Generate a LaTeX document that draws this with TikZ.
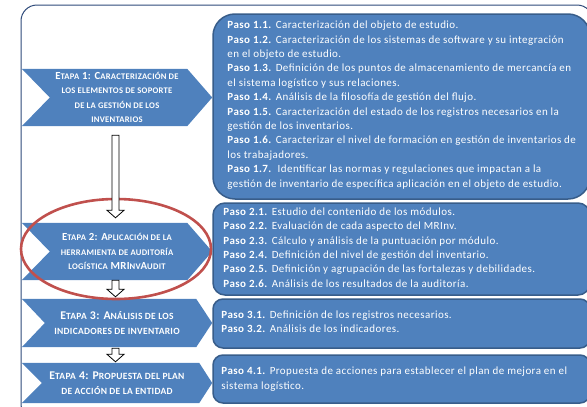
\documentclass[tikz,border=0pt]{standalone}
\usepackage{fontspec}
\setmainfont{Carlito}
\usetikzlibrary{calc,backgrounds,shapes.geometric}
\definecolor{mblue}{HTML}{4F81BD}
\definecolor{mborder}{HTML}{385D8A}
\definecolor{mframe}{HTML}{2E4A7A}
\definecolor{mred}{HTML}{C0504D}
\def\smsize{8.6}
\newcommand\smc[1]{{\fontsize{\smsize}{14.3}\selectfont\MakeUppercase{#1}}}
\begin{document}
\begin{tikzpicture}[x=1pt,y=-1pt,
  etapa/.style={minimum width=190pt,inner sep=0pt,align=center,text=white,
     font=\fontsize{10.8}{14.3}\selectfont\bfseries\addfontfeatures{LetterSpace=3}},
  etapabig/.style={etapa,
     font=\fontsize{11.8}{14.8}\selectfont\bfseries\addfontfeatures{LetterSpace=3}\def\smsize{9.5}},
  stepbox/.style={draw=mborder,line width=1.5pt,fill=mblue,minimum width=377pt},
  steptext/.style={anchor=west,align=left,text=white,inner sep=0pt,
     font=\fontsize{11}{14.4}\selectfont\addfontfeatures{LetterSpace=4}},
  blockarrow/.style={draw=black,fill=white,line width=0.8pt,to path={
    let \p1=(\tikztostart), \p2=(\tikztotarget) in
    (\x1-3.5pt,\y1) -- (\x1+3.5pt,\y1) -- (\x1+3.5pt,\y2+7.5pt) -- (\x1+8.5pt,\y2+7.5pt)
    -- (\x1,\y2) -- (\x1-8.5pt,\y2+7.5pt) -- (\x1-3.5pt,\y2+7.5pt) -- cycle}},
  chev/.style={fill=mblue}]
\useasboundingbox (0,0) rectangle (587,407);

% step boxes
\node[stepbox,rounded corners=22pt,minimum height=185pt] (s1) at (401.5,106.5) {};
\node[stepbox,rounded corners=12pt,minimum height=92pt] (s2) at (401.5,249) {};
\node[stepbox,rounded corners=10pt,minimum height=49pt] (s3) at (401.5,323.5) {};
\node[stepbox,rounded corners=10pt,minimum height=48pt] (s4) at (401.5,379) {};

\node[steptext] (t1) at ([xshift=15pt,yshift=1.5pt]s1.west) {%
\textbf{Paso 1.1.} Caracterización del objeto de estudio.\\
\textbf{Paso 1.2.} Caracterización de los sistemas de software y su integración\\
en el objeto de estudio.\\
\textbf{Paso 1.3.} Definición de los puntos de almacenamiento de mercancía en\\
el sistema logístico y sus relaciones.\\
\textbf{Paso 1.4.} Análisis de la filosofía de gestión del flujo.\\
\textbf{Paso 1.5.} Caracterización del estado de los registros necesarios en la\\
gestión de los inventarios.\\
\textbf{Paso 1.6.} Caracterizar el nivel de formación en gestión de inventarios de\\
los trabajadores.\\
\textbf{Paso 1.7.}\ \ Identificar las normas y regulaciones que impactan a la\\
gestión de inventario de específica aplicación en el objeto de estudio.};

\node[steptext] (t2) at ([xshift=11pt,yshift=1.5pt]s2.west) {%
\textbf{Paso 2.1.} Estudio del contenido de los módulos.\\
\textbf{Paso 2.2.} Evaluación de cada aspecto del MRInv.\\
\textbf{Paso 2.3.} Cálculo y análisis de la puntuación por módulo.\\
\textbf{Paso 2.4.} Definición del nivel de gestión del inventario.\\
\textbf{Paso 2.5.} Definición y agrupación de las fortalezas y debilidades.\\
\textbf{Paso 2.6.} Análisis de los resultados de la auditoría.};

\node[steptext] (t3) at ([xshift=9pt,yshift=1.5pt]s3.west) {%
\textbf{Paso 3.1.} Definición de los registros necesarios.\\
\textbf{Paso 3.2.} Análisis de los indicadores.};

\node[steptext] (t4) at ([xshift=9pt]s4.west) {%
\textbf{Paso 4.1.} Propuesta de acciones para establecer el plan de mejora en el\\
sistema logístico.};

% etapas
\node[etapa,minimum height=57pt] (e1) at (117,97.5) {%
E\smc{tapa} 1: C\smc{aracterización de}\\
\smc{los elementos de soporte}\\
\smc{de la gestión de los}\\
\smc{inventarios}};
\node[etapa,minimum height=57pt] (e2) at (117,251.5) {%
E\smc{tapa} 2: A\smc{plicación de la}\\
\smc{herramienta de auditoría}\\
\smc{logística} MRI\smc{nv}A\smc{udit}};
\node[etapabig,minimum height=48pt] (e3) at (117,323) {%
E\smc{tapa} 3: A\smc{nálisis de los}\\
\smc{indicadores de inventario}};
\node[etapabig,minimum height=40pt] (e4) at (117,383) {%
E\smc{tapa} 4: P\smc{ropuesta del plan}\\
\smc{de acción de la entidad}};

\begin{scope}[on background layer]
  \draw[mframe,line width=1pt,rounded corners=16pt] (21,5) rectangle (593,420);
  \fill[chev] (e1.north west) -- ([xshift=-25pt]e1.north east) -- (e1.east)
    -- ([xshift=-25pt]e1.south east) -- (e1.south west) -- ([xshift=28pt]e1.west) -- cycle;
  \fill[chev] (e2.north west) -- ([xshift=-25pt]e2.north east) -- (e2.east)
    -- ([xshift=-25pt]e2.south east) -- (e2.south west) -- ([xshift=28pt]e2.west) -- cycle;
  \fill[chev] (e3.north west) -- ([xshift=-16pt]e3.north east) -- (e3.east)
    -- ([xshift=-16pt]e3.south east) -- (e3.south west) -- ([xshift=23pt]e3.west) -- cycle;
  \fill[chev] (e4.north west) -- ([xshift=-13pt]e4.north east) -- (e4.east)
    -- ([xshift=-13pt]e4.south east) -- (e4.south west) -- ([xshift=20pt]e4.west) -- cycle;
\end{scope}

% highlight
\node[ellipse,draw=mred,line width=2.6pt,minimum width=190pt,minimum height=100pt,inner sep=0pt] (hl) at (116,249) {};

% arrows
\draw[blockarrow] ([xshift=-1.5pt,yshift=-9pt]e1.south) to ([xshift=-1.5pt,yshift=5pt]e2.north);
\draw[blockarrow] ([xshift=-1.5pt]e2.south) to ([xshift=-1.5pt,yshift=2pt]e3.north);
\draw[blockarrow] ([xshift=-1.5pt,yshift=-1pt]e3.south) to ([xshift=-1.5pt,yshift=1pt]e4.north);
\end{tikzpicture}
\end{document}
